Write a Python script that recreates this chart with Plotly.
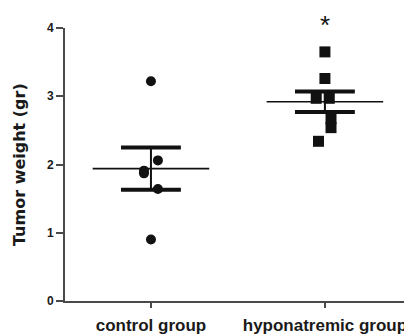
import plotly.graph_objects as go

# ---- data ----
categories = ["control group", "hyponatremic group"]
cat_pos = [0, 1]

control_values = [3.22, 2.06, 1.91, 1.87, 1.64, 0.90]
control_jitter = [0.0, 0.04, -0.04, -0.04, 0.04, 0.0]

hypo_values = [3.65, 3.26, 2.97, 2.97, 2.67, 2.54, 2.34]
hypo_jitter = [0.0, 0.0, -0.05, 0.025, 0.035, 0.035, -0.037]

group_means = [1.94, 2.92]
group_sem = [0.31, 0.15]

y_ticks = [0, 1, 2, 3, 4]
significance = ["", "*"]

# ---- style ----
INK = "#111111"
AXIS = "#4a4a4a"
MEAN_HALF = 0.335
CAP_HALF = 0.172
TICK_FONT = dict(family="Liberation Sans, Arial", size=17, color="#1a1a1a", weight="bold")
TOP_MARGIN = 20
PLOT_H = 334 - TOP_MARGIN - 41

fig = go.Figure()

fig.add_trace(go.Scatter(
    x=[cat_pos[0] + j for j in control_jitter], y=control_values,
    mode="markers", marker=dict(symbol="circle", size=10, color=INK),
    showlegend=False, hoverinfo="y"))
fig.add_trace(go.Scatter(
    x=[cat_pos[1] + j for j in hypo_jitter], y=hypo_values,
    mode="markers", marker=dict(symbol="square", size=11, color=INK),
    showlegend=False, hoverinfo="y"))

for xc, m, s in zip(cat_pos, group_means, group_sem):
    fig.add_trace(go.Scatter(x=[xc - MEAN_HALF, xc + MEAN_HALF], y=[m, m], mode="lines",
                             line=dict(color=INK, width=1.6), showlegend=False, hoverinfo="skip"))
    fig.add_trace(go.Scatter(x=[xc, xc], y=[m - s, m + s], mode="lines",
                             line=dict(color=INK, width=2), showlegend=False, hoverinfo="skip"))
    for yy in (m - s, m + s):
        fig.add_trace(go.Scatter(x=[xc - CAP_HALF, xc + CAP_HALF], y=[yy, yy], mode="lines",
                                 line=dict(color=INK, width=4), showlegend=False, hoverinfo="skip"))

for xc, sig in zip(cat_pos, significance):
    if sig:
        fig.add_annotation(x=xc, y=1.0 + TOP_MARGIN / PLOT_H, xref="x", yref="paper",
                           yanchor="top", text=sig, showarrow=False,
                           font=dict(family="Liberation Sans, Arial", size=26, color=INK))

fig.add_annotation(x=-46 / 345, y=0.498, xref="paper", yref="paper", xanchor="center", yanchor="middle",
                   text="Tumor weight (gr)", textangle=-90, showarrow=False,
                   font=dict(family="DejaVu Sans", size=16, color="#1a1a1a", weight="bold"))

fig.update_xaxes(range=[-0.494, 1.489], tickvals=cat_pos, ticktext=categories,
                 showline=True, linecolor=AXIS, linewidth=2, ticks="outside", ticklen=5,
                 tickwidth=1.5, tickcolor=AXIS, showgrid=False, zeroline=False,
                 tickfont=TICK_FONT, automargin=False, ticklabelstandoff=3)
fig.update_yaxes(range=[0, 4], tickvals=y_ticks, showline=True, linecolor=AXIS, linewidth=2,
                 ticks="outside", ticklen=7, tickwidth=1.5, tickcolor=AXIS, showgrid=False,
                 zeroline=False, automargin=False,
                 tickfont=dict(family="Liberation Sans, Arial", size=12,
                               color="#1a1a1a", weight="bold"))

# the page body has an 8px default margin, so margins are offset to place the plot area
fig.update_layout(width=412, height=334, margin=dict(l=57, r=10, t=TOP_MARGIN, b=41),
                  paper_bgcolor="white", plot_bgcolor="white", showlegend=False)

fig.write_html("out.html")
